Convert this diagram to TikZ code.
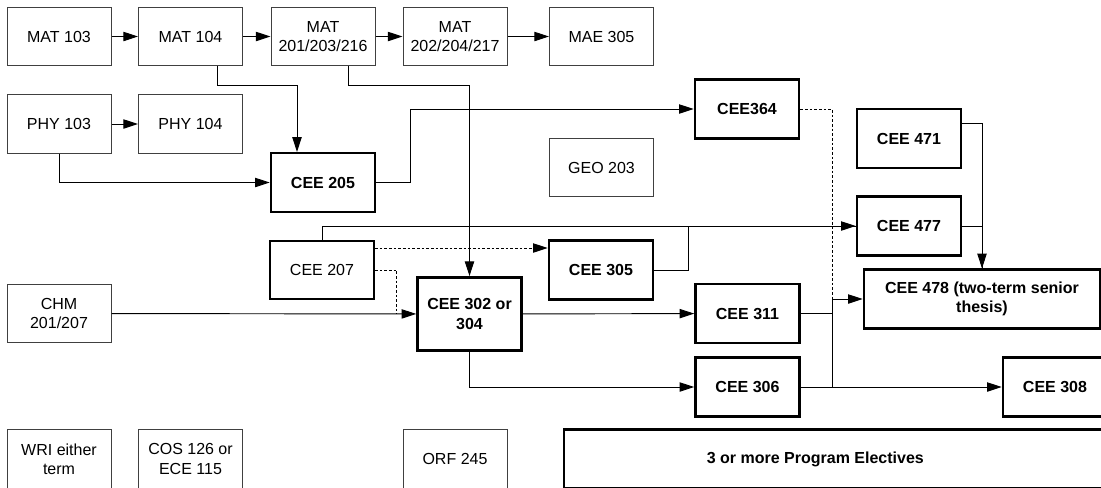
\documentclass[tikz,border=0pt]{standalone}
\usepackage{fontspec}
\setmainfont{Liberation Sans}
\usetikzlibrary{arrows.meta}
\tikzset{
  course/.style={draw=black!75,line width=0.75pt,minimum width=78pt,minimum height=44pt,align=center,inner sep=1pt,
    font=\fontsize{12pt}{14.4pt}\selectfont},
  core/.style={course,draw=black,line width=1.9pt,font=\fontsize{12pt}{14.4pt}\selectfont\bfseries},
  conn/.style={line width=0.7pt,-{Triangle[length=11pt,width=7pt]}},
  link/.style={line width=0.7pt},
  optline/.style={line width=0.7pt,dash pattern=on 2pt off 1.5pt}
}
\begin{document}
\begin{tikzpicture}[x=0.75pt,y=-0.75pt]
  \useasboundingbox (0,0) rectangle (1101,487);
  \node[course] (mat103) at (59,36.5) {MAT 103};
  \node[course] (mat104) at (190.5,36.5) {MAT 104};
  \node[course] (mat201) at (323,36.5) {MAT\\201/203/216};
  \node[course] (mat202) at (455,36.5) {MAT\\202/204/217};
  \node[course] (mae305) at (601.5,36.5) {MAE 305};
  \node[course] (phy103) at (59,124) {PHY 103};
  \node[course] (phy104) at (190.5,124) {PHY 104};
  \node[core] (cee205) at (323,182.5) {CEE 205};
  \node[course] (geo203) at (601.5,167.5) {GEO 203};
  \node[core] (cee364) at (747,109) {CEE364};
  \node[core] (cee471) at (909,138.5) {CEE 471};
  \node[core] (cee477) at (909,226) {CEE 477};
  \node[course,line width=1.3pt,draw=black] (cee207) at (322,270) {CEE 207};
  \node[core] (cee305) at (601,270) {CEE 305};
  \node[course] (chm) at (59,313.5) {CHM\\201/207};
  \node[core,minimum height=55pt] (cee302) at (469.5,314) {CEE 302 or\\304};
  \node[core] (cee311) at (747.5,313.5) {CEE 311};
  \node[core] (cee306) at (747.5,387) {CEE 306};
  \node[core,minimum width=177pt] (cee478) at (982,299) {CEE 478 (two-term senior\\thesis)};
  \node[core] (cee308) at (1055,387) {CEE 308};
  \node[course] (wri) at (59,459) {WRI either\\term};
  \node[course] (cos) at (190.5,459) {COS 126 or\\ECE 115};
  \node[course] (orf) at (455,459) {ORF 245};
  \node[core,minimum width=417pt] (elect) at (842,459) {3 or more Program Electives\hspace*{40pt}};
  \coordinate (merge) at (832,299);
  \draw[conn] (mat103) -- (mat104);
  \draw[conn] (mat104) -- (mat201);
  \draw[conn] (mat201) -- (mat202);
  \draw[conn] (mat202) -- (mae305);
  \draw[conn] (phy103) -- (phy104);
  \draw[conn] ([xshift=20pt]mat104.south) -- ++(0,19) -| ([xshift=-19.5pt]cee205.north);
  \draw[conn] ([xshift=19pt]mat201.south) -- ++(0,19) -| (cee302.north);
  \draw[conn] (phy103.south) |- (cee205.west);
  \draw[conn] (cee205.east) -- ++(34,0) |- (cee364.west);
  \draw[optline] (cee364.east) -| (merge);
  \draw[conn] (cee207.north) |- (cee477.west);
  \draw[link] (cee305.east) -- ++(34,0) |- (cee477.west);
  \draw[optline,-{Triangle[length=11pt,width=7pt]}] ([yshift=16.5pt]cee207.east) -- ([yshift=16.5pt]cee305.west);
  \draw[optline] (cee207.east) -- ++(22,0) -- ++(0,44);
  \draw[conn] (chm) -- (cee302);
  \draw[conn] (cee302) -- (cee311);
  \draw[conn] (cee302.south) |- (cee306.west);
  \draw[conn] (cee306) -- (cee308);
  \draw[link] (cee311.east) -- (cee311.east -| merge);
  \draw[link] (cee306.east -| merge) -- (merge);
  \draw[conn] (merge) -- (cee478.west);
  \draw[conn] ([yshift=11pt]cee471.east) -| (cee478.north);
  \draw[link] (cee477.east) -| (cee478.north);
\end{tikzpicture}
\end{document}
